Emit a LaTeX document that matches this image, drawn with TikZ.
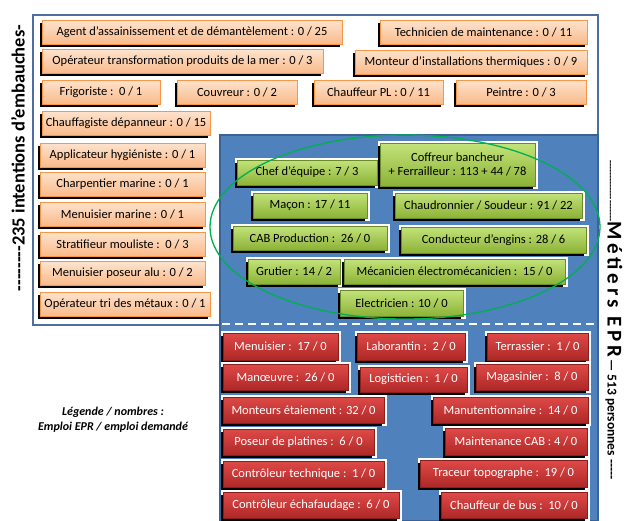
\documentclass[tikz,border=0pt]{standalone}
\usepackage{fontspec}
\setmainfont{Carlito}
\usetikzlibrary{shadows}
\definecolor{orangeline}{HTML}{F79646}
\definecolor{orangetop}{HTML}{FDE3CD}
\definecolor{orangebot}{HTML}{FAB989}
\definecolor{greenline}{HTML}{6B8A2A}
\definecolor{greentop}{HTML}{C2E37A}
\definecolor{greenbot}{HTML}{8CB236}
\definecolor{redline}{HTML}{8C1E1E}
\definecolor{redtop}{HTML}{DE4A48}
\definecolor{redbot}{HTML}{AE2827}
\definecolor{panelblue}{HTML}{4F81BD}
\definecolor{panelline}{HTML}{3A6297}
\definecolor{frameline}{HTML}{4D6E9E}
\definecolor{ringgreen}{HTML}{00B050}

\begin{document}
\begin{tikzpicture}[x=1pt, y=-1pt,
	box/.style={rectangle, inner sep=1pt, font=\fontsize{12.5}{14}\selectfont, drop shadow={shadow xshift=-2pt, shadow yshift=-2.5pt, fill=black, opacity=1}},
	framed/.style={preaction={draw=white, line width=5pt}},
	orangebox/.style={box, draw=orangeline, top color=orangetop, bottom color=orangebot, minimum height=24pt},
	greenbox/.style={framed, box, draw=greenline, top color=greentop, bottom color=greenbot, minimum height=25pt},
	redbox/.style={framed, box, draw=redline, top color=redtop, bottom color=redbot, text=white, minimum height=26pt},
	sidelabel/.style={font=\bfseries}]
	\useasboundingbox (0,0) rectangle (628,520);
	\draw[frameline, line width=1.5pt, fill=white] (33,15) rectangle (598,325);
	\draw[panelline, line width=1.5pt, fill=panelblue] (220,135) rectangle (598,521);
	\draw[white, line width=2pt, dash pattern=on 8pt off 5pt] (222,324) -- (596,324);

	\node[orangebox, minimum width=300pt] (agent) at (192,32.5) {Agent d’assainissement et de démantèlement : 0 / 25};
	\node[orangebox, minimum width=207pt] (technicien) at (483.5,32.5) {Technicien de maintenance : 0 / 11};
	\node[orangebox, minimum width=281pt] (operateur) at (182.5,61.5) {Opérateur transformation produits de la mer : 0 / 3};
	\node[orangebox, minimum width=232pt] (monteur) at (471,62) {Monteur d’installations thermiques : 0 / 9};
	\node[orangebox, minimum width=118pt] (frigoriste) at (101,92) {Frigoriste :\ \ 0 / 1};
	\node[orangebox, minimum width=120pt] (couvreur) at (237,92) {Couvreur : 0 / 2};
	\node[orangebox, minimum width=129pt] (chauffeurpl) at (378.5,92) {Chauffeur PL : 0 / 11};
	\node[orangebox, minimum width=130pt] (peintre) at (521,92) {Peintre : 0 / 3};
	\node[orangebox, minimum width=168pt] (chauffagiste) at (126,123) {Chauffagiste dépanneur : 0 / 15};
	\node[orangebox, minimum width=165pt] (applicateur) at (122.5,155) {Applicateur hygiéniste : 0 / 1};
	\node[orangebox, minimum width=165pt] (charpentier) at (122.5,184) {Charpentier marine : 0 / 1};
	\node[orangebox, minimum width=165pt] (menuisiermarine) at (122.5,214) {Menuisier marine : 0 / 1};
	\node[orangebox, minimum width=165pt] (stratifieur) at (122.5,244) {Stratifieur mouliste :\ \ 0 / 3};
	\node[orangebox, minimum width=165pt] (poseuralu) at (122.5,273.5) {Menuisier poseur alu : 0 / 2};
	\node[orangebox, minimum width=170pt] (trimetaux) at (125,304.5) {Opérateur tri des métaux : 0 / 1};

	\node[greenbox, minimum width=140pt] (chef) at (307,172.5) {Chef d’équipe : 7 / 3};
	\node[greenbox, minimum width=155pt, minimum height=43pt, align=center] (coffreur) at (457.5,164.5) {Coffreur bancheur\\+ Ferrailleur : 113 + 44 / 78};
	\node[greenbox, minimum width=114pt] (macon) at (310,205.5) {Maçon : 17 / 11};
	\node[greenbox, minimum width=187pt] (chaudronnier) at (488.5,205.5) {Chaudronnier / Soudeur : 91 / 22};
	\node[greenbox, minimum width=154pt, minimum height=24pt] (cab) at (310,238) {CAB Production :\ \ 26 / 0};
	\node[greenbox, minimum width=185pt, minimum height=26pt] (conducteur) at (493.5,240) {Conducteur d’engins : 28 / 6};
	\node[greenbox, minimum width=92pt] (grutier) at (294,271.5) {Grutier : 14 / 2};
	\node[greenbox, minimum width=221pt] (mecanicien) at (454.5,271.5) {Mécanicien électromécanicien :\ \ 15 / 0};
	\node[greenbox, minimum width=123pt, minimum height=26pt] (electricien) at (401.5,303) {Electricien : 10 / 0};
	\draw[ringgreen, line width=1.3pt] (405,227) ellipse [x radius=195, y radius=92];

	\node[redbox, minimum width=115pt, minimum height=27pt] (menuisier) at (280.5,346.5) {Menuisier :\ \ 17 / 0};
	\node[redbox, minimum width=108pt, minimum height=27pt] (laborantin) at (411,346.5) {Laborantin :\ \ 2 / 0};
	\node[redbox, minimum width=101pt, minimum height=27pt] (terrassier) at (537.5,346.5) {Terrassier :\ \ 1 / 0};
	\node[redbox, minimum width=125pt] (manoeuvre) at (285.5,377) {Manœuvre :\ \ 26 / 0};
	\node[redbox, minimum width=107pt, minimum height=25pt] (logisticien) at (413.5,379.5) {Logisticien :\ \ 1 / 0};
	\node[redbox, minimum width=112pt] (magasinier) at (532,377) {Magasinier :\ \ 8 / 0};
	\node[redbox, minimum width=161pt] (monteurs) at (303.5,410) {Monteurs étaiement : 32 / 0};
	\node[redbox, minimum width=155pt] (manutentionnaire) at (510.5,410) {Manutentionnaire :\ \ 14 / 0};
	\node[redbox, minimum width=151pt] (poseur) at (298.5,442) {Poseur de platines :\ \ 6 / 0};
	\node[redbox, minimum width=142pt, minimum height=27pt] (maintenance) at (516,441.5) {Maintenance CAB : 4 / 0};
	\node[redbox, minimum width=161pt] (controleur) at (303.5,474) {Contrôleur technique :\ \ 1 / 0};
	\node[redbox, minimum width=167pt, minimum height=27pt] (traceur) at (503.5,473.5) {Traceur topographe :\ \ 19 / 0};
	\node[redbox, minimum width=176pt] (echafaudage) at (311,505) {Contrôleur échafaudage :\ \ 6 / 0};
	\node[redbox, minimum width=146pt] (bus) at (514,505) {Chauffeur de bus :\ \ 10 / 0};

	\node[align=center, font=\bfseries\itshape\fontsize{12}{15}\selectfont] (legende) at (113,420) {Légende / nombres :\\Emploi EPR / emploi demandé};
	\node[sidelabel, rotate=90, font=\bfseries\fontsize{18.5}{20}\selectfont] (intentions) at (18,158) {-{}-{}-{}-{}-{}-{}-{}-235 intentions d’embauches-};
	\node[sidelabel, rotate=-90] (metiers) at (614,320) {{\fontsize{10}{12}\selectfont -{}-{}-{}-{}-{}-{}-{}-{}-{}-{}-{}-{}-{}-{}-{}-{}-{}-{}-{}-}{\fontsize{21}{24}\selectfont\addfontfeature{LetterSpace=18}Métiers EPR} {\fontsize{13.5}{14}\selectfont — 513 personnes -{}-{}-{}-{}-}};
\end{tikzpicture}
\end{document}
